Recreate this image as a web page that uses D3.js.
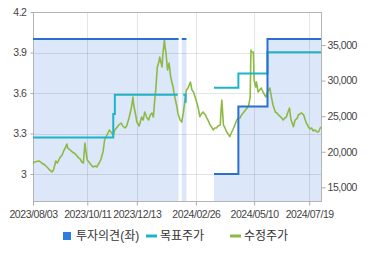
<!DOCTYPE html>
<html>
<head>
<meta charset="utf-8">
<script src="https://cdn.jsdelivr.net/npm/d3@7"></script>
<style>
  body { margin: 0; background: #fff; }
  svg { display: block; font-family: "Liberation Sans", "Noto Sans CJK KR", sans-serif; }
  .axis text { fill: #444; font-size: 10.5px; letter-spacing: -0.45px; }
  .axis path, .axis line { stroke: #aaa; }
</style>
</head>
<body>
<svg id="chart" width="370" height="255"></svg>
<script>
// 수정주가 (right axis)
const priceDates = [
  "2023-08-03","2023-08-05","2023-08-08","2023-08-11","2023-08-14","2023-08-18","2023-08-22","2023-08-24","2023-08-27","2023-08-29",
  "2023-09-01","2023-09-03","2023-09-06","2023-09-09","2023-09-11","2023-09-13","2023-09-15","2023-09-16","2023-09-19","2023-09-22",
  "2023-09-24","2023-09-27","2023-09-29","2023-10-02","2023-10-04","2023-10-06","2023-10-08","2023-10-09","2023-10-11","2023-10-13",
  "2023-10-16","2023-10-18","2023-10-21","2023-10-23","2023-10-26","2023-10-28","2023-10-31","2023-11-02","2023-11-05","2023-11-08",
  "2023-11-10","2023-11-13","2023-11-15","2023-11-18","2023-11-20","2023-11-23","2023-11-25","2023-11-28","2023-11-30","2023-12-03",
  "2023-12-06","2023-12-08","2023-12-09","2023-12-11","2023-12-13","2023-12-16","2023-12-19","2023-12-21","2023-12-23","2023-12-26",
  "2023-12-28","2023-12-30","2024-01-01","2024-01-03","2024-01-05","2024-01-06","2024-01-08","2024-01-10","2024-01-11","2024-01-14",
  "2024-01-15","2024-01-17","2024-01-18","2024-01-19","2024-01-21","2024-01-23","2024-01-25","2024-01-28","2024-01-29","2024-01-31",
  "2024-02-02","2024-02-03","2024-02-06","2024-02-08","2024-02-10","2024-02-12","2024-02-14","2024-02-16","2024-02-19","2024-02-21",
  "2024-02-23","2024-02-25","2024-02-27","2024-02-29","2024-03-02","2024-03-04","2024-03-06","2024-03-09","2024-03-11","2024-03-13",
  "2024-03-15","2024-03-17","2024-03-19","2024-03-21","2024-03-23","2024-03-25","2024-03-28","2024-03-29","2024-03-30","2024-04-01",
  "2024-04-03","2024-04-05","2024-04-07","2024-04-09","2024-04-11","2024-04-14","2024-04-16","2024-04-18","2024-04-20","2024-04-22",
  "2024-04-24","2024-04-26","2024-04-28","2024-05-01","2024-05-03","2024-05-05","2024-05-06","2024-05-07","2024-05-09","2024-05-10",
  "2024-05-12","2024-05-13","2024-05-15","2024-05-18","2024-05-19","2024-05-22","2024-05-25","2024-05-27","2024-05-30","2024-06-01",
  "2024-06-03","2024-06-06","2024-06-08","2024-06-10","2024-06-13","2024-06-16","2024-06-18","2024-06-20","2024-06-22","2024-06-24",
  "2024-06-25","2024-06-26","2024-06-29","2024-07-01","2024-07-04","2024-07-05","2024-07-07","2024-07-09","2024-07-12","2024-07-14",
  "2024-07-16","2024-07-18","2024-07-20","2024-07-22","2024-07-24","2024-07-26","2024-07-29","2024-07-31","2024-08-02","2024-08-03"
];
const priceValues = [
  18350,18560,18630,18700,18420,18140,17720,17440,17160,17440,
  18700,18420,19120,19550,20110,20530,21090,20530,20250,19970,
  19830,19550,19260,18980,18560,18420,21230,20250,18840,18560,
  18140,17860,18000,17860,18420,18840,19970,21650,22350,23060,
  22780,22350,23060,23480,23760,24040,23620,23340,23620,24740,
  26150,27690,26570,25450,24180,23620,24880,24460,25590,24740,
  24460,25170,25450,24880,27690,28680,31910,32610,33310,31910,
  33600,35770,34580,33880,31490,32470,30500,29100,28400,27270,
  26290,25450,24460,24180,25450,27130,28680,28960,29800,28680,
  28400,27690,26990,26150,24930,25310,25590,25170,24740,24320,
  23760,23480,23060,23340,23340,23620,23760,25870,27270,23760,
  23340,22820,22500,22120,22640,23340,23900,24460,24740,24740,
  25170,25450,25730,26150,26430,27690,34300,34020,34020,30080,
  29100,29800,28400,28820,28960,28260,27690,28400,28960,27690,
  26570,25590,25450,25170,24880,24460,24740,24880,25590,26150,
  25170,24460,23520,24460,24740,25170,25310,25450,25170,24460,
  23900,23520,23200,23340,22920,23060,22780,22820,23340,23480
];

// 목표주가 (right axis), change points; null = no coverage
const targetDates  = ["2023-08-03","2023-11-13","2023-11-15","2024-02-03","2024-02-04","2024-02-10","2024-02-13","2024-02-14","2024-02-15","2024-03-20","2024-04-20","2024-05-27","2024-08-03"];
const targetValues = [22000, 25300, 28000, 28000, null, 28000, 27000, 27000, null, 29000, 31000, 34000, 34000];

// 투자의견 (left axis), change points
const opinionDates  = ["2023-08-03","2024-02-04","2024-02-05","2024-02-08","2024-02-14","2024-02-15","2024-03-20","2024-04-20","2024-05-27","2024-08-03"];
const opinionValues = [4.0, 4.0, null, 4.0, 4.0, null, 3.0, 3.5, 4.0, 4.0];

const xTicks = ["2023-08-03","2023-10-11","2023-12-13","2024-02-26","2024-05-10","2024-07-19"];
const leftTicks = [3, 3.3, 3.6, 3.9, 4.2];
const rightTicks = [15000, 20000, 25000, 30000, 35000];

const parse = d3.timeParse("%Y-%m-%d");
const price = priceDates.map((d, i) => ({ date: parse(d), value: priceValues[i] }));
const target = targetDates.map((d, i) => ({ date: parse(d), value: targetValues[i] }));
const opinion = opinionDates.map((d, i) => ({ date: parse(d), value: opinionValues[i] }));

const plot = { left: 33, right: 321, top: 12, bottom: 201 };

const x = d3.scaleTime().domain([parse("2023-08-03"), parse("2024-08-03")]).range([plot.left, plot.right]);
const yL = d3.scaleLinear().domain([2.8, 4.2]).range([plot.bottom, plot.top]);
const yR = d3.scaleLinear().domain([13080, 39640]).range([plot.bottom, plot.top]);

const svg = d3.select("#chart");

// investment opinion fill
svg.append("path")
  .datum(opinion)
  .attr("fill", "#dce7f9")
  .attr("d", d3.area()
    .defined(d => d.value != null)
    .curve(d3.curveStepAfter)
    .x(d => x(d.date))
    .y0(plot.bottom)
    .y1(d => yL(d.value)));

// grid
svg.append("g")
  .selectAll("line")
  .data(leftTicks.filter(t => t < 4.2))
  .join("line")
    .attr("x1", plot.left).attr("x2", plot.right)
    .attr("y1", d => Math.round(yL(d)) + 0.5).attr("y2", d => Math.round(yL(d)) + 0.5)
    .attr("stroke", "#000").attr("stroke-opacity", 0.1);

svg.append("g")
  .selectAll("line")
  .data(xTicks.slice(1).map(parse))
  .join("line")
    .attr("x1", d => Math.round(x(d)) + 0.5).attr("x2", d => Math.round(x(d)) + 0.5)
    .attr("y1", plot.top).attr("y2", plot.bottom)
    .attr("stroke", "#000").attr("stroke-opacity", 0.1);

// border
svg.append("rect")
  .attr("x", plot.left + 0.5).attr("y", plot.top + 0.5)
  .attr("width", plot.right - plot.left).attr("height", plot.bottom - plot.top)
  .attr("fill", "none").attr("stroke", "#b4b4b4");

// axes
svg.append("g")
  .attr("class", "axis")
  .attr("transform", `translate(${plot.left + 0.5},0)`)
  .call(d3.axisLeft(yL).tickValues(leftTicks).tickSize(3).tickPadding(4).tickFormat(d3.format("~g")))
  .call(g => g.select(".domain").remove());

svg.append("g")
  .attr("class", "axis")
  .attr("transform", `translate(${plot.right + 0.5},0)`)
  .call(d3.axisRight(yR).tickValues(rightTicks).tickSize(4).tickPadding(2).tickFormat(d3.format(",")))
  .call(g => g.select(".domain").remove());

svg.append("g")
  .attr("class", "axis")
  .attr("transform", `translate(0,${plot.bottom + 0.5})`)
  .call(d3.axisBottom(x).tickValues(xTicks.map(parse)).tickSize(4).tickPadding(5).tickFormat(d3.timeFormat("%Y/%m/%d")))
  .call(g => g.select(".domain").remove());

// lines
svg.append("path")
  .datum(price)
  .attr("fill", "none")
  .attr("stroke", "#8dba45")
  .attr("stroke-width", 1.6)
  .attr("stroke-linejoin", "round")
  .attr("d", d3.line().x(d => x(d.date)).y(d => yR(d.value)));

svg.append("path")
  .datum(target)
  .attr("fill", "none")
  .attr("stroke", "#1eb4c8")
  .attr("stroke-width", 2)
  .attr("d", d3.line()
    .defined(d => d.value != null)
    .curve(d3.curveStepAfter)
    .x(d => x(d.date))
    .y(d => yR(d.value)));

svg.append("path")
  .datum(opinion)
  .attr("fill", "none")
  .attr("stroke", "#2b6fd1")
  .attr("stroke-width", 2)
  .attr("d", d3.line()
    .defined(d => d.value != null)
    .curve(d3.curveStepAfter)
    .x(d => x(d.date))
    .y(d => yL(d.value)));

// legend
const legend = svg.append("g").attr("font-size", 12).attr("fill", "#333");
legend.append("rect").attr("x", 63).attr("y", 232).attr("width", 8).attr("height", 8).attr("fill", "#2b7de0");
legend.append("text").attr("x", 76).attr("y", 240).text("투자의견(좌)");
legend.append("line").attr("x1", 146).attr("x2", 157).attr("y1", 236).attr("y2", 236)
  .attr("stroke", "#1eb4c8").attr("stroke-width", 3);
legend.append("text").attr("x", 160).attr("y", 240).text("목표주가");
legend.append("line").attr("x1", 230).attr("x2", 241).attr("y1", 236).attr("y2", 236)
  .attr("stroke", "#8dba45").attr("stroke-width", 3);
legend.append("text").attr("x", 244).attr("y", 240).text("수정주가");
</script>
</body>
</html>
